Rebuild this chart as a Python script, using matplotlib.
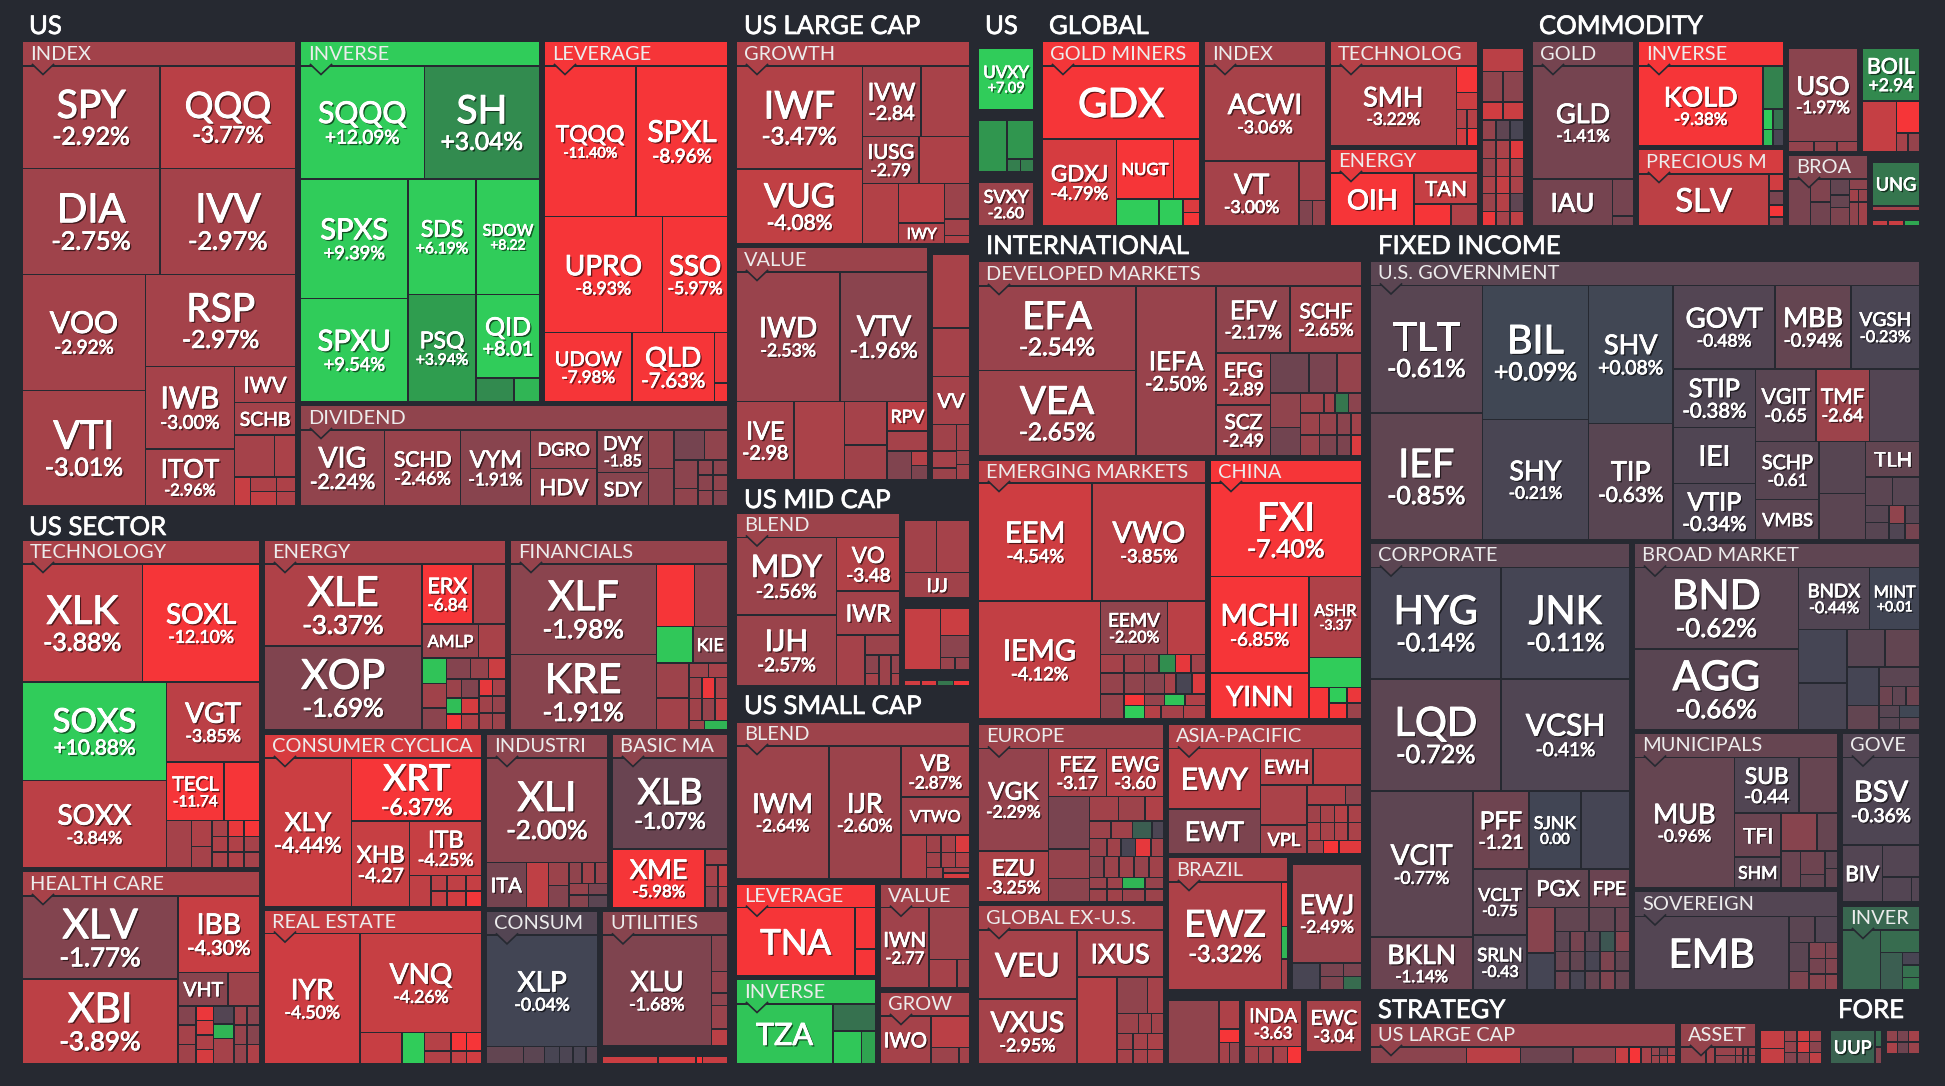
import numpy as np
import matplotlib
matplotlib.use("Agg")
import matplotlib.pyplot as plt
from matplotlib.patches import Rectangle, Polygon
from matplotlib.textpath import TextPath
from matplotlib.font_manager import FontProperties
from matplotlib.colors import to_rgb
import matplotlib.patheffects as pe

def H(shares, *kids): return ("h", shares, kids)
def V(shares, *kids): return ("v", shares, kids)

# ---- data: each leaf is (ticker, change text), (ticker, est. change) or est. change; shares = relative size
US_INDEX = V([306, 317, 691],
    H([291, 286], ("SPY", "-2.92%"), ("QQQ", "-3.77%")),
    H([291, 286], ("DIA", "-2.75%"), ("IVV", "-2.97%")),
    H([260, 317],
      V([346, 345], ("VOO", "-2.92%"), ("VTI", "-3.01%")),
      V([275, 416], ("RSP", "-2.97%"),
        H([187, 129],
          V([246, 170], ("IWB", "-3.00%"), ("ITOT", "-2.96%")),
          V([108, 97, 211], ("IWV", -3.0), ("SCHB", -2.9),
            V([125, 86],
              H([84, 45], -3.0, -3.2),
              H([34, 95], -4.3, V(None, H([55, 40], -3.3, -3.3), H([55, 40], -4.1, -3.3)))))))))
US_INVERSE = V([338, 667],
    H([261, 243], ("SQQQ", "+12.09%"), ("SH", "+3.04%")),
    H([227, 277],
      V([358, 309], ("SPXS", "+9.39%"), ("SPXU", "+9.54%")),
      V([346, 321],
        H([143, 134], ("SDS", "+6.19%"), ("SDOW", "+8.22")),
        H([143, 134], ("PSQ", "+3.94%"),
          V([249, 70], ("QID", "+8.01"), H([79, 53], 3.0, 5.0))))))
US_LEVERAGE = V([451, 347, 207],
    H([193, 192], ("TQQQ", "-11.40%"), ("SPXL", "-8.96%")),
    H([248, 137], ("UPRO", "-8.93%"), ("SSO", "-5.97%")),
    H([184, 173, 28], ("UDOW", "-7.98%"), ("QLD", "-7.63%"), V([150, 56], -5.6, -6.4)))
US_DIVIDEND = H([177, 160, 147, 139, 109, 53, 113],
    ("VIG", "-2.24%"), ("SCHD", "-2.46%"), ("VYM", "-1.91%"),
    V([114, 111], ("DGRO", -2.2), ("HDV", -2.2)),
    V([126, 99], ("DVY", "-1.85"), ("SDY", -1.9)),
    V([114, 111], -2.2, -2.0),
    V([89, 136],
      H([63, 48], -1.4, -2.2),
      H([50, 61], V([84, 51], -2.0, -2.2),
        V(None, H(None, -2.1, -2.0), H(None, -2.0, -2.2), H(None, -2.1, -1.8)))))
TECHNOLOGY = V([320, 502],
    H([253, 247], ("XLK", "-3.88%"), ("SOXL", "-12.10%")),
    H([304, 196],
      V([264, 235], ("SOXS", "+10.88%"), ("SOXX", "-3.84%")),
      V([215, 157, 127], ("VGT", "-3.85%"),
        H([120, 75], ("TECL", "-11.74"), -7.2),
        H([52, 42, 100], -3.0, V([68, 56], -3.3, -3.0),
          V(None, H(None, -3.1, -5.5, -6.6), H(None, -3.3, -3.4, -3.0), H(None, -3.2, -3.4, -3.0))))))
HEALTH = H([328, 172],
    V([225, 230], ("XLV", "-1.77%"), ("XBI", "-3.89%")),
    V([206, 91, 156], ("IBB", "-4.30%"),
      H([105, 66], ("VHT", -1.9), -2.7),
      H([37, 37, 42, 54],
        V(None, -1.8, -3.0, -2.8),
        V(None, -5.6, -4.8, -3.4, -4.8),
        V([48, 38, 66], -0.5, 5.0, -3.0),
        V(None, H(None, -2.6, -2.0), H(None, -2.4, -1.9), H(None, -2.4, -3.4)))))
ENERGY = H([332, 176],
    V([223, 227], ("XLE", "-3.37%"), ("XOP", "-1.69%")),
    V([163, 91, 195],
      H([106, 69], ("ERX", "-6.84"), -2.8),
      H([119, 57], ("AMLP", -2.4), -3.1),
      H([51, 125],
        V([70, 66, 58], 5.6, -2.8, -2.0),
        V([58, 137],
          H([50, 37, 36], -1.8, -2.4, -4.4),
          H([32, 36, 56],
            V([50, 42, 42], -2.6, 5.4, -6.2),
            V([50, 42, 42], -1.7, -4.8, -3.4),
            V(None, H(None, -5.4, -3.0), H(None, -2.8, -2.4), H(None, -2.8, -2.6))))))
    )
FINANCIALS = H([307, 150],
    V([246, 204], ("XLF", "-1.98%"), ("KRE", "-1.91%")),
    V([169, 98, 181],
      H([79, 69], -7.8, -2.4),
      H([76, 73], 5.8, ("KIE", -1.9)),
      H([68, 81],
        V([95, 85], -2.7, -2.9),
        V([40, 55, 59, 25],
          H(None, -2.7, -3.0),
          H(None, -2.7, -5.6, -3.0),
          H(None, -2.8, -2.4, -4.0),
          H([32, 48], -2.6, 5.0)))))
CONSUMER = H([184, 274],
    ("XLY", "-4.44%"),
    V([170, 231], ("XRT", "-6.37%"),
      H([121, 150], ("XHB", "-4.27"),
        V([146, 84], ("ITB", "-4.25%"),
          H([44, 34, 39, 33],
            -4.0, V(None, -3.8, -4.2), V(None, -4.0, -4.6), V(None, -4.2, -5.8))))))
REAL_ESTATE = H([202, 256],
    ("IYR", "-4.50%"),
    V([267, 84], ("VNQ", "-4.26%"),
      H([87, 47, 56, 64], -4.3, 6.0, V([50, 34], -3.6, -3.5),
        V([50, 34], H(None, -6.4, -6.2), H(None, -4.0, -4.6)))))
INDUSTRIALS = V([282, 123], ("XLI", "-2.00%"),
    H([84, 47, 43, 81], ("ITA", -1.4), -4.0, V([63, 60], -2.6, -1.8),
      V([57, 31, 35], H(None, -2.2, -2.8, -2.5), H(None, -2.4, -1.5), H(None, -1.9, -0.7))))
BASIC_MATERIALS = V([245, 159], ("XLB", "-1.07%"),
    H([194, 47], ("XME", "-5.98%"),
      V([43, 116], -2.8, H([27, 20], V(None, -3.0, -2.0), V(None, -4.0, -3.0)))))
CONSUMER_DEF = V([300, 47], ("XLP", "-0.04%"),
    H([76, 44, 30, 28, 27, 24], -0.9, -0.7, -0.2, -0.3, -0.2, -0.6))
UTILITIES = H([228, 34], ("XLU", "-1.68%"), V([97, 57, 33, 63, 45], -1.9, -2.3, -2.1, -2.5, -3.8))
COMM_BARS = H([118, 81, 13, 54], -4.4, -4.8, -9.0, -4.3)
LC_GROWTH = H([307, 261],
    V([309, 223], ("IWF", "-3.47%"), ("VUG", "-4.08%")),
    V([212, 140, 181],
      H([142, 119], ("IVW", "-2.84"), -3.1),
      H([138, 123], ("IUSG", "-2.79"), -3.3),
      H([88, 112, 61], -3.5,
        V([119, 62], -3.8, ("IWY", -3.3)),
        V([107, 50, 24], -2.6, -2.9, -3.4))))
LC_VALUE = V([387, 235],
    H([253, 213], ("IWD", "-2.53%"), ("VTV", "-1.96%")),
    H([141, 123, 103, 99], ("IVE", "-2.98"), -3.2,
      V([131, 104], -3.0, -2.8),
      V([89, 60, 86], ("RPV", -3.8), -3.0,
        H([59, 40], -1.7, V(None, -3.6, -1.6)))))
LC_SIDE = V([219, 145, 143, 164], -3.1, -3.0, ("VV", -3.0),
    H([58, 31], V([77, 50, 34], -2.8, -3.0, -2.6), V([75, 42, 44], -2.8, -2.6, -2.8)))
UVXY_CELL = ("UVXY", "+7.09")
UVXY_GROUP = H([68, 64], 3.6, V([113, 37], 3.6, H(None, 2.4, 2.4)))
SVXY_CELL = ("SVXY", "-2.60")
GOLD_MINERS = V([218, 260], ("GDX", -7.3),
    H([180, 201], ("GDXJ", "-4.79%"),
      V([180, 80],
        H([137, 64], ("NUGT", -7.4), -7.2),
        H([102, 59, 40], 6.0, 6.0, V(None, -5.0, -6.0)))))
GL_INDEX = V([284, 194], ("ACWI", "-3.06%"),
    H([229, 65], ("VT", "-3.00%"), V([119, 75], -3.0, H(None, -1.7, -2.4))))
GL_TECH = H([124, 21], ("SMH", "-3.22%"),
    V([77, 49, 54, 50], -6.2, -4.4, H(None, -3.4, -3.6), H(None, -4.6, -6.4)))
GL_ENERGY = H([178, 135], ("OIH", -6.2),
    V([86, 60], ("TAN", -4.2), H([78, 56], -6.2, -3.4)))
GL_SIDE = V([69, 88, 52, 58, 54, 51, 50, 52, 41],
    -3.8, H(None, -2.2, -2.0), H(None, -4.6, -4.4),
    H(None, -2.4, -0.8, -0.2), H(None, -2.6, -3.2, -5.2),
    H(None, -2.4, -3.6, -3.2), H(None, -3.2, -4.2, -3.2),
    H(None, -2.6, -3.6, -0.8), H(None, -5.6, -3.0, -4.0))
CM_GOLD = V([327, 135], ("GLD", "-1.41%"),
    H([212, 56], ("IAU", -1.4), V([107, 28], -1.4, -1.4)))
CM_INVERSE = H([331, 55], ("KOLD", "-9.38%"),
    V([124, 60, 47], 2.6, H([27, 28], 7.0, 1.8), H([27, 28], 5.4, -0.2)))
CM_PRECIOUS = H([347, 39], ("SLV", -3.9),
    V([48, 41, 34, 25], -4.6, -1.5, -7.0, -2.0))
USO_GROUP = V([266, 30], ("USO", "-1.97%"), H([68, 60, 54], -2.3, -2.2, -2.4))
BOIL_GROUP = V([150, 145], ("BOIL", "+2.94"),
    H([90, 60], -4.2, V([92, 53], -6.2, H(None, -3.0, -2.4))))
CM_BROAD = H([58, 52, 50, 48],
    -1.5, V([65, 67], -1.7, -1.3),
    V([45, 35, 52], -0.9, -1.0, -1.6),
    V([30, 35, 67], -2.0, H(None, -2.8, -2.4), H(None, -2.2, -2.8)))
UNG_CELL = ("UNG", 2.0)
UNG_THIN = -3.0
UNG_ROW = H(None, -4.2, -4.4, 4.4)
DEVELOPED = H([384, 195, 354],
    V([253, 255], ("EFA", "-2.54%"), ("VEA", "-2.65%")),
    ("IEFA", "-2.50%"),
    V([200, 308],
      H([180, 174], ("EFV", "-2.17%"), ("SCHF", "-2.65%")),
      H([132, 222],
        V([155, 152], ("EFG", "-2.89"), ("SCZ", "-2.49")),
        V([120, 187],
          H([93, 68, 60], -1.2, -1.5, -2.4),
          H([73, 148],
            V([102, 85], -2.2, -1.3),
            V([60, 65, 62],
              H([55, 27, 32, 31], -2.6, -2.8, 2.0, -2.0),
              H([45, 43, 33, 26], -2.6, -2.4, -2.0, -2.8),
              H([45, 43, 33, 26], -2.5, -1.6, -1.6, -5.0)))))))
EMERGING = V([299, 299],
    H([277, 277], ("EEM", "-4.54%"), ("VWO", "-3.85%")),
    H([298, 256], ("IEMG", "-4.12%"),
      V([136, 163],
        H([163, 93], ("EEMV", "-2.20%"), -3.8),
        H([57, 199],
          V([47, 53, 63], -3.0, -2.4, -2.4),
          V([47, 53, 30, 33],
            H([50, 35, 40, 38, 36], -2.6, -2.4, 3.2, -5.4, -2.8),
            H([50, 48, 28, 40, 33], -2.2, -1.9, -3.0, -0.2, -5.0),
            H([50, 48, 50, 51], -6.4, -2.4, 5.6, -3.4),
            H([50, 40, 55, 54], 6.2, -3.6, -3.0, -3.4))))))
CHINA = V([250, 380], ("FXI", "-7.40%"),
    H([240, 128],
      V([258, 122], ("MCHI", "-6.85%"), ("YINN", -6.4)),
      V([216, 80, 84], ("ASHR", "-3.37"), 6.0,
        H([48, 44, 36], -7.0, V(None, 6.0, -6.5), V(None, -5.6, -2.6)))))
MC_BLEND = H([244, 153],
    V([203, 185], ("MDY", "-2.56%"), ("IJH", "-2.57%")),
    V([140, 115, 133], ("VO", "-3.48"), ("IWR", -2.9),
      H([69, 84], -3.0,
        V([53, 80], -2.6, H([34, 29, 21], V([48, 32], -2.0, -3.0), -2.7, V([48, 32], -2.3, -3.0))))))
MC_SIDE_A = V([135, 65], H([76, 80], -2.9, -3.0), ("IJJ", -2.8))
MC_SIDE_B = H([86, 70], -4.2, V([71, 56, 32], -4.4, -2.0, H(None, -2.5, -2.3)))
MC_THIN = H(None, -4.6, -5.0, 2.0, -5.8)
SC_BLEND = H([226, 175, 168],
    ("IWM", "-2.64%"), ("IJR", "-2.60%"),
    V([134, 100, 115], ("VB", "-2.87%"), ("VTWO", -2.7),
      H([62, 106], -3.2,
        V([46, 40, 29],
          H(None, -2.8, -3.0, -5.0), H(None, -2.8, -3.0, -3.4),
          H([40, 63], -2.9, V(None, -3.0, -4.8))))))
SC_LEVERAGE = H([288, 50], ("TNA", -7.0), V([108, 69], -7.2, -6.2))
SC_INVERSE = H([234, 104], ("TZA", 5.7), V([70, 85], 1.8, H([69, 35], 5.8, 4.2)))
SC_VALUE = H([118, 98], ("IWN", "-2.77"), V([134, 74], -2.6, H([67, 31], -3.0, -2.7)))
SC_GROWTH = H([122, 94], ("IWO", -3.0), V([80, 42], -3.8, H([68, 26], -2.6, -2.9)))
EUROPE = H([171, 280],
    V([269, 131], ("VGK", "-2.29%"), ("EZU", "-3.25%")),
    V([126, 273],
      H([141, 139], ("FEZ", "-3.17"), ("EWG", "-3.60")),
      H([99, 181],
        V([136, 78, 59], -1.5, -2.4, -2.0),
        V([63, 46, 46, 55, 30, 32],
          H([71, 64, 46], -2.9, -2.7, -3.4),
          H([53, 52, 48, 28], -2.7, -2.8, 1.0, -0.3),
          H([43, 35, 36, 38, 31], -2.5, -2.8, -0.2, -5.4, -2.8),
          H(None, -2.0, -2.6, -2.7, -2.4, -2.8),
          H([43, 38, 55, 45], -2.5, -2.7, 5.0, -2.4),
          H([43, 38, 55, 45], -2.6, -2.8, -2.5, -2.6)))))
ASIA_PACIFIC = H([224, 246],
    V([158, 118], ("EWY", -3.8), ("EWT", -1.6)),
    V([95, 180],
      H([127, 119], ("EWH", -3.5), -3.7),
      H([113, 133],
        V([105, 75], -3.2, ("VPL", -2.8)),
        V([53, 45, 47, 35],
          H([93, 40], -3.3, -2.2),
          H(None, -2.8, -3.1, -3.6, -3.2),
          H(None, -3.4, -3.1, -3.4, -3.2),
          H([40, 38, 55], -3.0, -6.0, -5.2)))))
BRAZIL = H([277, 15], ("EWZ", "-3.32%"), V([117, 85, 80], -5.4, 5.0, -3.0))
EWJ_GROUP = V([256, 70], ("EWJ", "-2.49%"),
    H([67, 56, 44], -0.2, V(None, -1.5, -1.6), V(None, -1.5, 1.6)))
GLOBAL_EX = H([239, 211],
    V([181, 169], ("VEU", -3.0), ("VXUS", "-2.95%")),
    V([123, 227], ("IXUS", -3.0),
      H([97, 114], -3.6,
        V([95, 53, 42, 37],
          H([74, 40], -2.2, -3.0),
          H([53, 31, 30], -2.6, -2.8, -2.8),
          H([40, 34, 40], -2.8, -3.0, -3.2),
          H([40, 34, 40], -3.0, -3.0, -3.2)))))
ASIA_LOW = H([122, 50], -2.2, V([73, 35, 54], -3.3, -7.0, H(None, -3.0, -2.3)))
INDA_GROUP = V([118, 44], ("INDA", "-3.63"), H(None, -2.8, -2.9, -3.0, -6.6))
EWC_CELL = ("EWC", "-3.04")
US_GOV = H([300, 284, 226, 660],
    V([369, 367], ("TLT", "-0.61%"), ("IEF", "-0.85%")),
    V([388, 348], ("BIL", "+0.09%"), ("SHY", "-0.21%")),
    V([399, 337], ("SHV", "+0.08%"), ("TIP", "-0.63%")),
    V([241, 495],
      H([274, 204, 184], ("GOVT", "-0.48%"), ("MBB", "-0.94%"), ("VGSH", "-0.23%")),
      H([221, 439],
        V([170, 162, 163], ("STIP", "-0.38%"), ("IEI", -0.4), ("VTIP", "-0.34%")),
        V([210, 285],
          H([161, 143, 135], ("VGIT", "-0.65"), ("TMF", "-2.64"), -0.5),
          H([170, 124, 145],
            V([168, 117], ("SCHP", "-0.61"), ("VMBS", -0.7)),
            V([151, 134], -0.6, -0.7),
            V([103, 83, 99], ("TLH", -0.9),
              H(None, -0.7, -0.6),
              H([63, 43, 39], V(None, -0.6, -0.6), V([52, 47], -2.2, -0.4), V([52, 47], -0.6, -1.4)))))))
    )
CORPORATE = V([313, 316, 559],
    H([349, 343], ("HYG", "-0.14%"), ("JNK", "-0.11%")),
    H([349, 343], ("LQD", "-0.72%"), ("VCSH", "-0.41%")),
    H([274, 418],
      V([411, 148], ("VCIT", "-0.77%"), ("BKLN", "-1.14%")),
      V([219, 340],
        H([149, 139, 130], ("PFF", "-1.21"), ("SJNK", "0.00"), -0.1),
        H([144, 274],
          V([186, 154], ("VCLT", "-0.75"), ("SRLN", "-0.43")),
          V([108, 232],
            H([165, 109], ("PGX", -0.9), ("FPE", -1.1)),
            H([75, 199],
              V([128, 104], -1.9, -0.1),
              V([68, 56, 55, 53],
                H([90, 70, 39], -0.9, -0.9, -1.1),
                H(None, -0.7, -1.4, -0.7, 0.7, -1.8),
                H(None, -1.0, -0.9, -0.2, -1.6, -0.9),
                H(None, -1.1, -0.2, -0.9, -1.7, -1.0))))))))
BROAD_MARKET = H([438, 323],
    V([228, 227], ("BND", "-0.62%"), ("AGG", "-0.66%")),
    V([173, 282],
      H([189, 134], ("BNDX", "-0.44%"), ("MINT", "+0.01")),
      H([129, 194],
        V([151, 131], -0.1, -0.2),
        V([106, 108, 68],
          H([102, 92], -0.6, -0.9),
          H([86, 108], -0.1, V(None, -0.7, H(None, -1.2, -0.8, -1.2))),
          H([86, 108], -0.9, V(None, H(None, -0.6, 0.1), H(None, -0.6, -0.8)))))))
MUNICIPALS = H([267, 275],
    ("MUB", "-0.96%"),
    V([155, 210],
      H([172, 103], ("SUB", "-0.44"), -1.0),
      H([124, 151],
        V([124, 86], ("TFI", -1.1), ("SHM", -0.6)),
        V([107, 103],
          H([96, 55], -1.9, -1.0),
          H([52, 65, 34], -1.1, V([66, 37], -1.2, -0.9), V([49, 54], -0.7, -0.9))))))
GOV_CREDIT = V([246, 159], ("BSV", "-0.36%"),
    H([105, 98], ("BIV", -0.5), V([90, 69], -0.5, H([76, 21], -0.5, -0.5))))
SOVEREIGN = H([412, 130], ("EMB", -0.5),
    V([73, 131],
      H([69, 61], -0.7, -0.5),
      H([54, 43, 33],
        V([80, 51], -0.7, -1.6),
        V(None, -1.7, -1.4, -1.9),
        V(None, -1.6, -1.7, -2.0))))
GOV_INVERSE = H([100, 103], 1.4, V([62, 104], 1.6, H([58, 45], 1.0, V(None, -0.2, 1.8, 2.0))))
STRAT_LARGE = H([256, 144, 139, 113, 37, 31, 28, 65],
    -2.0, -3.8, -1.2, -2.0, -4.2, -6.6, -3.0,
    V(None, H(None, -2.4, -1.4, -3.0), H(None, -2.6, -3.2, -3.6)))
STRAT_ASSET = H([68, 23, 108], -2.4, -2.8,
    V(None, H([55, 20, 14, 20], -2.5, -2.8, -2.2, -2.4), H([55, 20, 14, 20], -2.2, -2.2, -2.5, -2.2)))
STRAT_SIDE = H([63, 98], V([50, 42], -4.2, -4.2),
    V(None, H(None, -2.6, -4.4, -3.0), H(None, -2.4, -4.8, -2.0), H(None, -1.8, -2.0, -4.0)))
UUP_GROUP = H([118, 18], ("UUP", 1.2), V(None, 1.6, -1.8))
FORE_SIDE = V(None, H(None, -2.2, -1.5, -3.0), H(None, -3.2, -1.2, -2.6))

# ---- layout of the groups on the 1945 x 1086 canvas
#  (header, x0, x1, y0, body top, y1, header change, tree)
GROUPS = [
    ("INDEX", 23, 295, 42, 66, 505, -2.9, US_INDEX),
    ("INVERSE", 301, 539, 42, 66, 401, 6.1, US_INVERSE),
    ("LEVERAGE", 545, 727, 42, 66, 401, -8.4, US_LEVERAGE),
    ("DIVIDEND", 301, 727, 406, 430, 505, -2.2, US_DIVIDEND),
    ("TECHNOLOGY", 23, 259, 540.5, 564, 867, -3.2, TECHNOLOGY),
    ("HEALTH CARE", 23, 259, 872, 896, 1063, -3.1, HEALTH),
    ("ENERGY", 265, 505, 540.5, 564, 729, -3.0, ENERGY),
    ("FINANCIALS", 511, 727, 540.5, 564, 729, -2.4, FINANCIALS),
    ("CONSUMER CYCLICA", 265, 481, 735, 758, 906, -4.9, CONSUMER),
    ("REAL ESTATE", 265, 481, 910.5, 933.6, 1063, -4.3, REAL_ESTATE),
    ("INDUSTRI", 487, 607, 735, 758, 907, -2.0, INDUSTRIALS),
    ("BASIC MA", 613, 727, 735, 758, 907, -2.2, BASIC_MATERIALS),
    ("CONSUM", 487, 597, 912, 935.4, 1063, -0.5, CONSUMER_DEF),
    ("UTILITIES", 603, 727, 912, 935.4, 1045, -1.9, UTILITIES),
    ("GROWTH", 737, 969, 42, 66, 243, -3.4, LC_GROWTH),
    ("VALUE", 737, 927, 248, 272, 479, -2.6, LC_VALUE),
    ("GOLD MINERS", 1043, 1199, 42, 66, 225, -5.9, GOLD_MINERS),
    ("INDEX", 1205, 1325, 42, 66, 225, -2.9, GL_INDEX),
    ("TECHNOLOG", 1331, 1477, 42, 66, 145, -3.6, GL_TECH),
    ("ENERGY", 1331, 1477, 150, 173, 225, -5.4, GL_ENERGY),
    ("GOLD", 1533, 1633, 42, 66, 225, -1.4, CM_GOLD),
    ("INVERSE", 1639, 1783, 42, 66, 145, -7.6, CM_INVERSE),
    ("PRECIOUS M", 1639, 1783, 150, 174, 225, -4.8, CM_PRECIOUS),
    ("BROA", 1789, 1867, 156, 179, 225, -1.7, CM_BROAD),
    ("DEVELOPED MARKETS", 979, 1361, 262, 286, 455, -2.4, DEVELOPED),
    ("EMERGING MARKETS", 979, 1205, 461, 483, 718, -3.8, EMERGING),
    ("CHINA", 1211, 1361, 461, 483, 718, -6.6, CHINA),
    ("BLEND", 737, 899, 514, 537.5, 685, -2.7, MC_BLEND),
    ("BLEND", 737, 969, 722.6, 746, 878, -2.7, SC_BLEND),
    ("LEVERAGE", 737, 875, 884.5, 907.7, 975, -7.0, SC_LEVERAGE),
    ("INVERSE", 737, 875, 980, 1004, 1063, 5.6, SC_INVERSE),
    ("VALUE", 881, 969, 884.5, 907.7, 987, -2.8, SC_VALUE),
    ("GROW", 881, 969, 992.5, 1016, 1063, -3.0, SC_GROWTH),
    ("EUROPE", 979, 1163, 724.5, 748.5, 900.5, -2.7, EUROPE),
    ("ASIA-PACIFIC", 1169, 1361, 724.5, 748.5, 853, -3.3, ASIA_PACIFIC),
    ("BRAZIL", 1169, 1287, 858, 882, 989, -3.2, BRAZIL),
    ("GLOBAL EX-U.S.", 979, 1163, 906, 930, 1063, -3.0, GLOBAL_EX),
    ("U.S. GOVERNMENT", 1371, 1919, 262, 285.5, 539, -0.7, US_GOV),
    ("CORPORATE", 1371, 1629, 544, 567.6, 989, -0.7, CORPORATE),
    ("BROAD MARKET", 1635, 1919, 544, 567.6, 729, -0.8, BROAD_MARKET),
    ("MUNICIPALS", 1635, 1837, 734, 757.6, 887, -1.0, MUNICIPALS),
    ("GOVE", 1843, 1919, 734, 757.6, 901, -0.5, GOV_CREDIT),
    ("SOVEREIGN", 1635, 1837, 892, 916.5, 989, -0.5, SOVEREIGN),
    ("INVER", 1843, 1919, 906.6, 930, 989, 1.4, GOV_INVERSE),
    ("US LARGE CAP", 1371, 1675, 1024, 1047, 1063, -2.4, STRAT_LARGE),
    ("ASSET", 1681, 1755, 1024, 1047, 1063, -2.4, STRAT_ASSET),
]
# (x0, x1, y0, y1, tree) for the loose clusters without a header
LOOSE = [
    (603, 727, 1056.7, 1063, COMM_BARS),
    (933, 969, 255, 479, LC_SIDE),
    (979, 1033, 49, 109, UVXY_CELL),
    (979, 1033, 121, 171, UVXY_GROUP),
    (979, 1033, 183, 225, SVXY_CELL),
    (1483, 1523, 48.5, 225, GL_SIDE),
    (1789, 1857, 49, 151, USO_GROUP),
    (1863, 1919, 49, 151, BOIL_GROUP),
    (1873, 1919, 163, 205, UNG_CELL),
    (1873, 1919, 206.5, 209.5, UNG_THIN),
    (1873, 1919, 221, 225, UNG_ROW),
    (1293, 1361, 865, 989, EWJ_GROUP),
    (1169, 1239, 1001, 1063, ASIA_LOW),
    (1245, 1301, 1001, 1063, INDA_GROUP),
    (1307, 1361, 1001, 1051, EWC_CELL),
    (905.5, 969, 521, 597, MC_SIDE_A),
    (905.5, 969, 609, 669, MC_SIDE_B),
    (905.5, 969, 681, 685, MC_THIN),
    (1761, 1821, 1031, 1063, STRAT_SIDE),
    (1831, 1881, 1031, 1063, UUP_GROUP),
    (1887, 1919, 1031, 1053, FORE_SIDE),
]
TITLES = [("US", 29, 25), ("US SECTOR", 29, 526), ("US LARGE CAP", 744, 25), ("US", 985, 25),
          ("GLOBAL", 1049, 25), ("COMMODITY", 1539, 25), ("INTERNATIONAL", 986, 245),
          ("FIXED INCOME", 1378, 245), ("US MID CAP", 744, 499), ("US SMALL CAP", 744, 705),
          ("STRATEGY", 1378, 1009), ("FORE", 1838, 1009)]
# ticker font sizes (px) where the heat map's own sizing departs from the general rule
TICKER_PX = {"VOO": 30, "IWD": 28, "VTV": 28, "IWM": 27, "IJR": 27, "EEM": 29, "VWO": 29, "IEMG": 29,
             "XLY": 26, "IYR": 28, "VNQ": 28, "XRT": 36, "XLV": 41, "XBI": 41, "SOXL": 28, "SOXS": 33,
             "SOXX": 28, "XLE": 41, "XOP": 41, "XLF": 41, "KRE": 41, "XLI": 41, "XLB": 36, "XLU": 28,
             "XLP": 28, "VGT": 28, "IEFA": 26, "GLD": 27, "SMH": 27, "KOLD": 27, "ACWI": 28,
             "VCSH": 30, "BND": 41, "AGG": 41, "SHV": 27, "SHY": 27, "TIP": 27, "MUB": 27,
             "VCIT": 28, "FXI": 39, "UPRO": 28, "SPXS": 29, "SPXU": 29, "SQQQ": 30, "SH": 39,
             "DIA": 40, "IVV": 40, "SPY": 39, "QQQ": 36, "PSQ": 23, "SDS": 23, "QID": 25}

BG = "#262931"
FONT = "Lato"
STOPS = [-6, -4, -2, 0, 2, 4, 6]
STOP_COLORS = np.array([to_rgb(c) for c in
    ["#f63538", "#bf4045", "#8b444e", "#414554", "#35764e", "#2f9e4f", "#30cc5a"]])

def colour(change):
    return tuple(np.interp(change, STOPS, STOP_COLORS[:, i]) for i in range(3))

fig = plt.figure(figsize=(19.45, 10.86), dpi=100, facecolor=BG)
ax = fig.add_axes([0, 0, 1, 1])
ax.set_xlim(0, 1945)
ax.set_ylim(1086, 0)
ax.axis("off")

fp = FontProperties(family=FONT)
PX = 72 / 100  # points per pixel
CAP = 0.72     # Lato cap height, in em

def effects(px):
    lw = 0.25 + px * 0.012
    return [pe.withSimplePatchShadow(offset=(1.2, -1.2), shadow_rgbFace="black", alpha=0.6),
            pe.withStroke(linewidth=lw, foreground="white")]

def text_w(s, px):
    return TextPath((0, 0), s, size=px, prop=fp).get_extents().width

def put_label(name, val, x0, y0, x1, y1):
    w, h = x1 - x0, y1 - y0
    cx, cy = (x0 + x1) / 2, (y0 + y1) / 2
    F = 6 + 0.28 * np.sqrt(w * h)
    if val is None:
        F *= 1.12
    lim = max(min(w - 20, 0.74 * w), min(0.8 * w, 50))
    F = min(F, F * lim / max(text_w(name, F), 1))
    F = TICKER_PX.get(name, F)
    if val:
        pct = val.endswith("%")
        f = F * (0.63 if pct else 0.85)
        if pct and w <= 88:
            f = min(max(f, f * 0.75 * w / text_w(val, f)), 0.85 * F)
        lim_v = w * (0.86 if pct else 0.76)
        f = min(f, f * lim_v / max(text_w(val, f), 1))
        gap = 0.23 * F
        block = CAP * F + gap + CAP * f
        if block > 0.86 * h:
            s = 0.86 * h / block
            F, f, gap, block = F * s, f * s, gap * s, block * s
        base = cy - block / 2 + CAP * F
        ax.text(cx, base, name, ha="center", va="baseline", color="white",
                family=FONT, fontsize=F * PX, path_effects=effects(F), zorder=5)
        ax.text(cx, base + gap + CAP * f, val, ha="center", va="baseline", color="white",
                family=FONT, fontsize=f * PX, path_effects=effects(f), zorder=5)
    else:
        F = min(F, 0.75 * h)
        ax.text(cx, cy + CAP * F / 2, name, ha="center", va="baseline", color="white",
                family=FONT, fontsize=F * PX, path_effects=effects(F), zorder=5)

def draw(node, x0, y0, x1, y1):
    if isinstance(node, tuple) and node[0] in ("h", "v"):
        kind, shares, kids = node
        shares = np.ones(len(kids)) if shares is None else np.asarray(shares, float)
        edges = np.concatenate([[0], np.cumsum(shares)]) / shares.sum()
        for k, kid in enumerate(kids):
            if kind == "h":
                draw(kid, x0 + (x1 - x0) * edges[k], y0, x0 + (x1 - x0) * edges[k + 1], y1)
            else:
                draw(kid, x0, y0 + (y1 - y0) * edges[k], x1, y0 + (y1 - y0) * edges[k + 1])
        return
    if isinstance(node, tuple):
        name, v = node
        change = float(v.rstrip("%")) if isinstance(v, str) else v
        val = v if isinstance(v, str) else None
    else:
        name, change, val = None, node, None
    ax.add_patch(Rectangle((x0 + 0.75, y0 + 0.75), max(x1 - x0 - 1.5, 0.5), max(y1 - y0 - 1.5, 0.5),
                           facecolor=colour(change), edgecolor="none", zorder=2))
    if name:
        put_label(name, val, x0, y0, x1, y1)

OUT = 0.75  # the gutter inside a frame stays inside it
for head, x0, x1, y0, yb, y1, hc, tree in GROUPS:
    ax.add_patch(Rectangle((x0, y0), x1 - x0, yb - y0 - 1, facecolor=colour(hc), edgecolor="none", zorder=2))
    ax.text(x0 + 7, (y0 + yb) / 2 + 5.5, head, ha="left", va="baseline", color="#ececec",
            family=FONT, fontsize=14.4, zorder=5)
    draw(tree, x0 - OUT, yb, x1 + OUT, y1 + OUT)
    # notch under the header: header colour with a dark outline on its two lower sides
    ax.add_patch(Polygon([(x0 + 10, yb - 1.5), (x0 + 30, yb - 1.5), (x0 + 20, yb + 8)],
                         closed=True, facecolor=colour(hc), edgecolor="none", zorder=3))
    ax.plot([x0 + 9.5, x0 + 20, x0 + 30.5], [yb - 1.5, yb + 8.5, yb - 1.5], color=BG, lw=1.2,
            solid_joinstyle="miter", zorder=4)

for x0, x1, y0, y1, tree in LOOSE:
    draw(tree, x0 - OUT, y0 - OUT, x1 + OUT, y1 + OUT)

for s, x, y in TITLES:
    ax.text(x, y + 9, s, ha="left", va="baseline", color="white", family=FONT, fontsize=18.5,
            path_effects=[pe.withStroke(linewidth=0.5, foreground="white")], zorder=5)

fig.savefig("out.png", dpi=100, facecolor=BG)
